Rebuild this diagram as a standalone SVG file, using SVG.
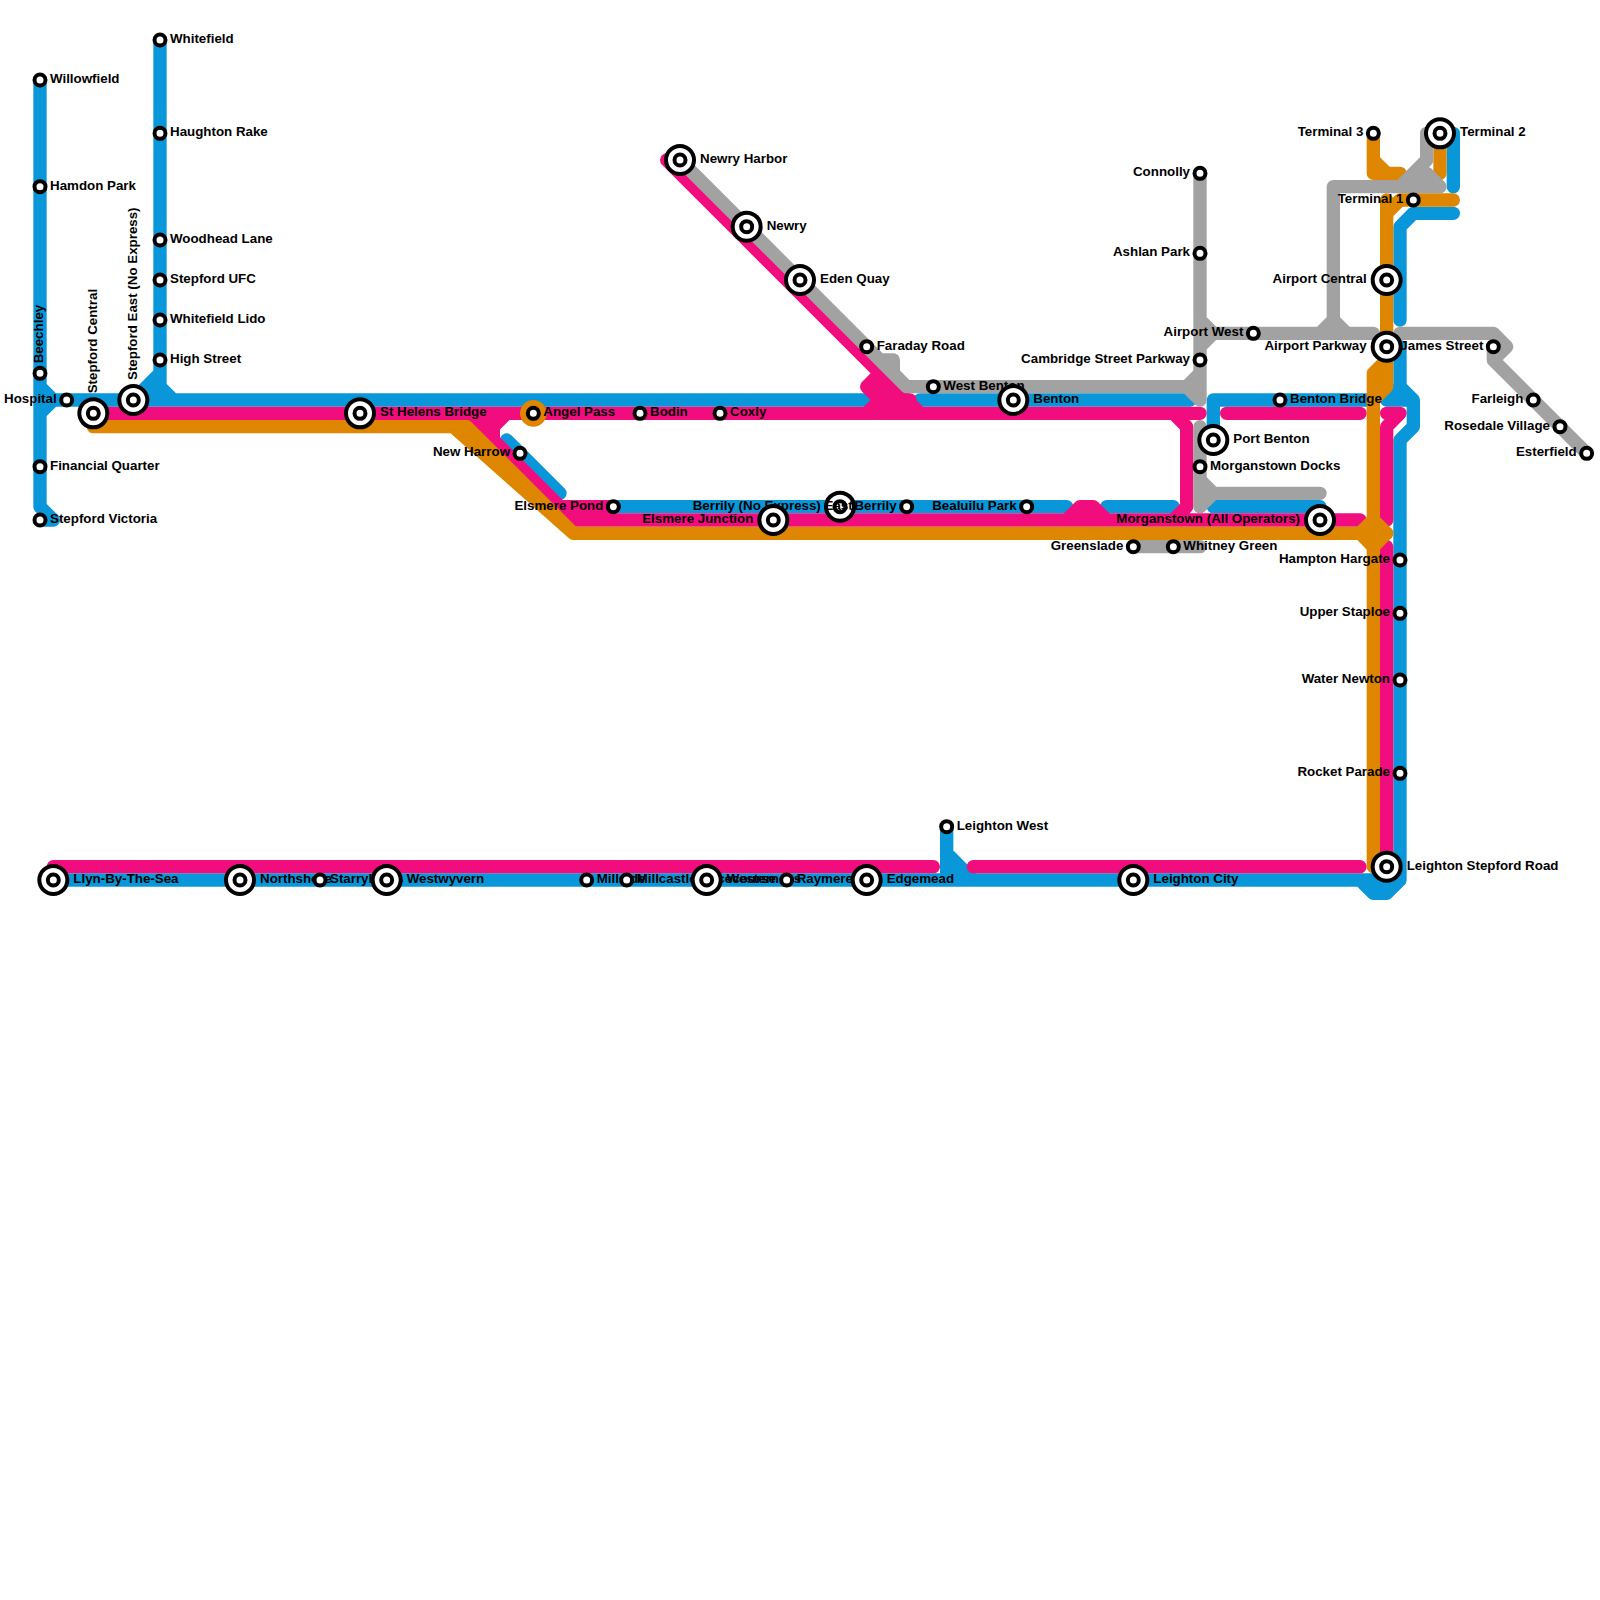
<svg xmlns="http://www.w3.org/2000/svg" width="1600" height="1600" viewBox="0 0 1600 1600">
<style>
.l{fill:none;stroke-width:13.33;stroke-linecap:round;stroke-linejoin:round}
.b{stroke:#0a97d9}.p{stroke:#f20d7e}.o{stroke:#de8600}.g{stroke:#a2a2a2}
.r{fill:#fff;stroke:#000;stroke-width:4}
.c{fill:#fff;stroke:#000;stroke-width:4}
text{font-family:"Liberation Sans",Arial,sans-serif;font-weight:700;font-size:13.33px;fill:#000}
.e{text-anchor:end}
</style>
<rect width="1600" height="1600" fill="#fff"/>
<g id="connectors">
<path class="l b" d="M40 80V506.67L53.33 520H40M40 386.67L53.33 400H880M53.33 400L40 413.33M133.33 400L160 373.33V40M160 373.33V400M146 400L160 386.67L173.33 400M506.67 440L560 493.33M613.33 506.67H1066.67M1106.67 506.67H1173.33M1213.33 506.67H1320M920 400H1190M1213.33 440V400H1373M1400 346.67V386.67L1413.33 400V426.67L1400 440V880L1386.67 893.33H1373.33L1360 880H53.33M1360 880H1400M1400 386.67L1386.67 400H1413.33M1453.33 213.33H1413.33L1400 226.67V320M1453.33 133.33V186.67M946.67 826.67V880M946.67 853.33L973.33 880"/>
<path class="b" style="fill:#0a97d9;stroke-width:1" d="M946.67 853.33L973.33 880H946.67Z"/>
<path class="b" style="fill:#0a97d9;stroke-width:1" d="M133.33 400L160 373.33V400Z"/>
<path class="l p" d="M93.33 413.33H1200M666.67 160L920 413.33M880 373.33L866.67 386.67H893.33M866.67 386.67L880 400H910M880 400L866.67 413.33M466.67 413.33L573.33 520H1360M560 506.67H613.33M506.67 413.33L493.33 426.67V440M1066.67 520L1080 506.67H1093.33L1106.67 520M1173.33 413.33L1186.67 426.67V506.67L1173.33 520M1226.67 413.33H1360M1386.67 520V426.67L1400 413.33H1386.67M1386.67 546.67V866.67M53.33 866.67H933.33M973.33 866.67H1360"/>
<path style="fill:#f20d7e" d="M470 416H500V440H490Z"/>
<path class="l o" d="M93.33 426.67H466.67L573.33 533.33H1386.67M453.33 426.67L573.33 533.33M1373.33 373.33V866.67M1386.67 200V360L1373.33 373.33M1386.67 360V386.67L1373.33 400M1386.67 213.33L1400 200H1453.33M1373.33 133.33V173.33H1400M1373.33 160L1386.67 173.33M1440 133.33V173.33"/>
<path class="l o" style="fill:#de8600" d="M1360 533.33L1373.33 520L1386.67 533.33L1373.33 546.67Z"/>
<circle cx="533.33" cy="413.33" r="13.33" fill="#de8600"/>
<path class="l g" d="M680 160L906.67 386.67H1186.67M880 360H893.33V373.33L906.67 386.67M1200 173.33V400L1186.67 386.67L1200 373.33M1200 426.67V506.67L1213.33 493.33H1320M1200 480L1213.33 493.33M1200 320L1213.33 333.33L1200 346.67M1213.33 333.33H1373.33M1320 333.33L1333.33 320V186.67H1440M1333.33 320L1346.67 333.33M1400 333.33H1493.33L1506.67 346.67L1493.33 360V346.67M1493.33 360L1586.67 453.33M1440 133.33H1426.67V160L1400 186.67M1426.67 173.33L1440 186.67M1133.33 546.67H1200"/>
<path class="g" style="fill:#a2a2a2;stroke-width:1" d="M1426.67 160L1400 186.67H1426.67Z"/>
</g>
<g id="n-willowfield"><circle class="c" cx="40" cy="80" r="5.5"/><text x="50" y="83">Willowfield</text></g>
<g id="n-hamdon-park"><circle class="c" cx="40" cy="186.67" r="5.5"/><text x="50" y="189.67">Hamdon Park</text></g>
<g id="n-beechley"><circle class="c" cx="40" cy="373.33" r="5.5"/><text transform="translate(43.33 363.33) rotate(-90)">Beechley</text></g>
<g id="n-hospital"><circle class="c" cx="66.67" cy="400" r="5.5"/><text class="e" x="56.67" y="403">Hospital</text></g>
<g id="n-financial-quarter"><circle class="c" cx="40" cy="466.67" r="5.5"/><text x="50" y="469.67">Financial Quarter</text></g>
<g id="n-stepford-victoria"><circle class="c" cx="40" cy="520" r="5.5"/><text x="50" y="523">Stepford Victoria</text></g>
<g id="n-stepford-central"><circle class="r" cx="93.33" cy="413.33" r="14"/><circle class="c" cx="93.33" cy="413.33" r="5.5"/><text transform="translate(96.67 393.33) rotate(-90)">Stepford Central</text></g>
<g id="n-stepford-east"><circle class="r" cx="133.33" cy="400" r="14"/><circle class="c" cx="133.33" cy="400" r="5.5"/><text transform="translate(136.67 380) rotate(-90)">Stepford East (No Express)</text></g>
<g id="n-whitefield"><circle class="c" cx="160" cy="40" r="5.5"/><text x="170" y="43">Whitefield</text></g>
<g id="n-haughton-rake"><circle class="c" cx="160" cy="133.33" r="5.5"/><text x="170" y="136.33">Haughton Rake</text></g>
<g id="n-woodhead-lane"><circle class="c" cx="160" cy="240" r="5.5"/><text x="170" y="243">Woodhead Lane</text></g>
<g id="n-stepford-ufc"><circle class="c" cx="160" cy="280" r="5.5"/><text x="170" y="283">Stepford UFC</text></g>
<g id="n-whitefield-lido"><circle class="c" cx="160" cy="320" r="5.5"/><text x="170" y="323">Whitefield Lido</text></g>
<g id="n-high-street"><circle class="c" cx="160" cy="360" r="5.5"/><text x="170" y="363">High Street</text></g>
<g id="n-st-helens-bridge"><circle class="r" cx="360" cy="413.33" r="14"/><circle class="c" cx="360" cy="413.33" r="5.5"/><text x="380" y="416.33">St Helens Bridge</text></g>
<g id="n-angel-pass"><circle class="c" cx="533.33" cy="413.33" r="5.5"/><text x="543.33" y="416.33">Angel Pass</text></g>
<g id="n-bodin"><circle class="c" cx="640" cy="413.33" r="5.5"/><text x="650" y="416.33">Bodin</text></g>
<g id="n-coxly"><circle class="c" cx="720" cy="413.33" r="5.5"/><text x="730" y="416.33">Coxly</text></g>
<g id="n-new-harrow"><circle class="c" cx="520" cy="453.33" r="5.5"/><text class="e" x="510" y="456.33">New Harrow</text></g>
<g id="n-elsmere-pond"><circle class="c" cx="613.33" cy="506.67" r="5.5"/><text class="e" x="603.33" y="509.67">Elsmere Pond</text></g>
<g id="n-berrily-east"><circle class="r" cx="840" cy="506.67" r="14"/><circle class="c" cx="840" cy="506.67" r="5.5"/><text x="692.67" y="509.67">Berrily (No Express) East</text></g>
<g id="n-elsmere-junction"><circle class="r" cx="773.33" cy="520" r="14"/><circle class="c" cx="773.33" cy="520" r="5.5"/><text class="e" x="753.33" y="523">Elsmere Junction</text></g>
<g id="n-berrily"><circle class="c" cx="906.67" cy="506.67" r="5.5"/><text class="e" x="896.67" y="509.67">Berrily</text></g>
<g id="n-bealuilu-park"><circle class="c" cx="1026.67" cy="506.67" r="5.5"/><text class="e" x="1016.67" y="509.67">Bealuilu Park</text></g>
<g id="n-morganstown-all"><circle class="r" cx="1320" cy="520" r="14"/><circle class="c" cx="1320" cy="520" r="5.5"/><text class="e" x="1300" y="523">Morganstown (All Operators)</text></g>
<g id="n-greenslade"><circle class="c" cx="1133.33" cy="546.67" r="5.5"/><text class="e" x="1123.33" y="549.67">Greenslade</text></g>
<g id="n-whitney-green"><circle class="c" cx="1173.33" cy="546.67" r="5.5"/><text x="1183.33" y="549.67">Whitney Green</text></g>
<g id="n-newry-harbor"><circle class="r" cx="680" cy="160" r="14"/><circle class="c" cx="680" cy="160" r="5.5"/><text x="700" y="163">Newry Harbor</text></g>
<g id="n-newry"><circle class="r" cx="746.67" cy="226.67" r="14"/><circle class="c" cx="746.67" cy="226.67" r="5.5"/><text x="766.67" y="229.67">Newry</text></g>
<g id="n-eden-quay"><circle class="r" cx="800" cy="280" r="14"/><circle class="c" cx="800" cy="280" r="5.5"/><text x="820" y="283">Eden Quay</text></g>
<g id="n-faraday-road"><circle class="c" cx="866.67" cy="346.67" r="5.5"/><text x="876.67" y="349.67">Faraday Road</text></g>
<g id="n-west-benton"><circle class="c" cx="933.33" cy="386.67" r="5.5"/><text x="943.33" y="389.67">West Benton</text></g>
<g id="n-benton"><circle class="r" cx="1013.33" cy="400" r="14"/><circle class="c" cx="1013.33" cy="400" r="5.5"/><text x="1033.33" y="403">Benton</text></g>
<g id="n-connolly"><circle class="c" cx="1200" cy="173.33" r="5.5"/><text class="e" x="1190" y="176.33">Connolly</text></g>
<g id="n-ashlan-park"><circle class="c" cx="1200" cy="253.33" r="5.5"/><text class="e" x="1190" y="256.33">Ashlan Park</text></g>
<g id="n-airport-west"><circle class="c" cx="1253.33" cy="333.33" r="5.5"/><text class="e" x="1243.33" y="336.33">Airport West</text></g>
<g id="n-cambridge-street-parkway"><circle class="c" cx="1200" cy="360" r="5.5"/><text class="e" x="1190" y="363">Cambridge Street Parkway</text></g>
<g id="n-port-benton"><circle class="r" cx="1213.33" cy="440" r="14"/><circle class="c" cx="1213.33" cy="440" r="5.5"/><text x="1233.33" y="443">Port Benton</text></g>
<g id="n-morganstown-docks"><circle class="c" cx="1200" cy="466.67" r="5.5"/><text x="1210" y="469.67">Morganstown Docks</text></g>
<g id="n-benton-bridge"><circle class="c" cx="1280" cy="400" r="5.5"/><text x="1290" y="403">Benton Bridge</text></g>
<g id="n-terminal-3"><circle class="c" cx="1373.33" cy="133.33" r="5.5"/><text class="e" x="1363.33" y="136.33">Terminal 3</text></g>
<g id="n-terminal-2"><circle class="r" cx="1440" cy="133.33" r="14"/><circle class="c" cx="1440" cy="133.33" r="5.5"/><text x="1460" y="136.33">Terminal 2</text></g>
<g id="n-terminal-1"><circle class="c" cx="1413.33" cy="200" r="5.5"/><text class="e" x="1403.33" y="203">Terminal 1</text></g>
<g id="n-airport-central"><circle class="r" cx="1386.67" cy="280" r="14"/><circle class="c" cx="1386.67" cy="280" r="5.5"/><text class="e" x="1366.67" y="283">Airport Central</text></g>
<g id="n-james-street"><circle class="c" cx="1493.33" cy="346.67" r="5.5"/><text class="e" x="1483.33" y="349.67">James Street</text></g>
<g id="n-airport-parkway"><circle class="r" cx="1386.67" cy="346.67" r="14"/><circle class="c" cx="1386.67" cy="346.67" r="5.5"/><text class="e" x="1366.67" y="349.67">Airport Parkway</text></g>
<g id="n-farleigh"><circle class="c" cx="1533.33" cy="400" r="5.5"/><text class="e" x="1523.33" y="403">Farleigh</text></g>
<g id="n-rosedale-village"><circle class="c" cx="1560" cy="426.67" r="5.5"/><text class="e" x="1550" y="429.67">Rosedale Village</text></g>
<g id="n-esterfield"><circle class="c" cx="1586.67" cy="453.33" r="5.5"/><text class="e" x="1576.67" y="456.33">Esterfield</text></g>
<g id="n-hampton-hargate"><circle class="c" cx="1400" cy="560" r="5.5"/><text class="e" x="1390" y="563">Hampton Hargate</text></g>
<g id="n-upper-staploe"><circle class="c" cx="1400" cy="613.33" r="5.5"/><text class="e" x="1390" y="616.33">Upper Staploe</text></g>
<g id="n-water-newton"><circle class="c" cx="1400" cy="680" r="5.5"/><text class="e" x="1390" y="683">Water Newton</text></g>
<g id="n-rocket-parade"><circle class="c" cx="1400" cy="773.33" r="5.5"/><text class="e" x="1390" y="776.33">Rocket Parade</text></g>
<g id="n-leighton-stepford-road"><circle class="r" cx="1386.67" cy="866.67" r="14"/><circle class="c" cx="1386.67" cy="866.67" r="5.5"/><text x="1406.67" y="869.67">Leighton Stepford Road</text></g>
<g id="n-leighton-west"><circle class="c" cx="946.67" cy="826.67" r="5.5"/><text x="956.67" y="829.67">Leighton West</text></g>
<g id="n-llyn"><circle class="r" cx="53.33" cy="880" r="14"/><circle class="c" cx="53.33" cy="880" r="5.5"/><text x="73.33" y="883">Llyn-By-The-Sea</text></g>
<g id="n-northshore"><circle class="r" cx="240" cy="880" r="14"/><circle class="c" cx="240" cy="880" r="5.5"/><text x="260" y="883">Northshore</text></g>
<g id="n-starrylands"><circle class="c" cx="320" cy="880" r="5.5"/><text x="330" y="883">Starrylands</text></g>
<g id="n-westwyvern"><circle class="r" cx="386.67" cy="880" r="14"/><circle class="c" cx="386.67" cy="880" r="5.5"/><text x="406.67" y="883">Westwyvern</text></g>
<g id="n-millside"><circle class="c" cx="586.67" cy="880" r="5.5"/><text x="596.67" y="883">Millside</text></g>
<g id="n-millcastle-racecourse"><circle class="c" cx="626.67" cy="880" r="5.5"/><text x="636.67" y="883">Millcastle Racecourse</text></g>
<g id="n-westerness"><circle class="r" cx="706.67" cy="880" r="14"/><circle class="c" cx="706.67" cy="880" r="5.5"/><text x="726.67" y="883">Westerness</text></g>
<g id="n-raymere"><circle class="c" cx="786.67" cy="880" r="5.5"/><text x="796.67" y="883">Raymere</text></g>
<g id="n-edgemead"><circle class="r" cx="866.67" cy="880" r="14"/><circle class="c" cx="866.67" cy="880" r="5.5"/><text x="886.67" y="883">Edgemead</text></g>
<g id="n-leighton-city"><circle class="r" cx="1133.33" cy="880" r="14"/><circle class="c" cx="1133.33" cy="880" r="5.5"/><text x="1153.33" y="883">Leighton City</text></g>
</svg>
